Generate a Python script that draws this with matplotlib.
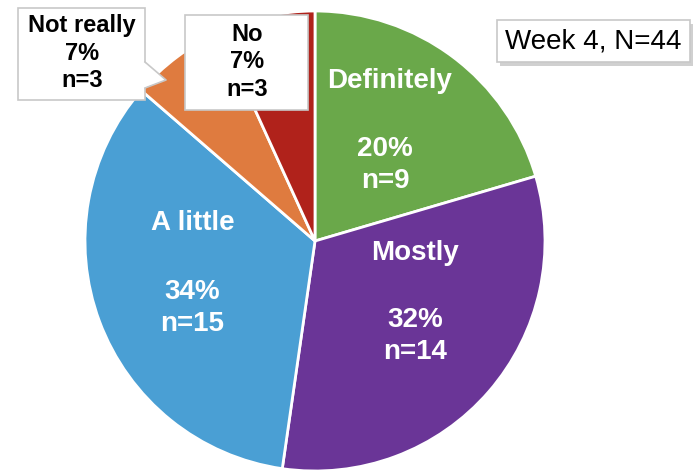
import matplotlib.pyplot as plt
from matplotlib.patches import Rectangle, Polygon

plt.rcParams['font.family'] = ['Liberation Sans', 'DejaVu Sans']

labels = ['Definitely', 'Mostly', 'A little', 'Not really', 'No']
counts = [9, 14, 15, 3, 3]
pcts = ['20%', '32%', '34%', '7%', '7%']
colors = ['#6aa84a', '#6a3597', '#4a9fd4', '#df7b3f', '#b0221b']

W, H = 695, 471
fig = plt.figure(figsize=(W / 100, H / 100), dpi=100)
ax = fig.add_axes([0, 0, 1, 1])


def fy(y):
    # image row -> data y
    return H - y


ax.pie(counts, colors=colors, startangle=90, counterclock=False,
       center=(315, fy(241)), radius=230,
       wedgeprops=dict(edgecolor='white', linewidth=2))
ax.set_xlim(0, W)
ax.set_ylim(0, H)
ax.set_aspect('equal')
ax.axis('off')

# labels inside the big slices
inside = {0: ((390, 81), (385, 165)), 1: ((415, 253), (415, 336)), 2: ((193, 223), (192, 308))}
for i, ((lx, ly), (px, py)) in inside.items():
    ax.text(lx, fy(ly), labels[i], color='white', fontsize=20, fontweight='bold',
            ha='center', va='center')
    ax.text(px, fy(py), f'{pcts[i]}\nn={counts[i]}', color='white', fontsize=20,
            fontweight='bold', ha='center', va='center', linespacing=1.3)


def box(x0, y0, x1, y1, shadow=False):
    if shadow:
        ax.add_patch(Rectangle((x0 + 3, fy(y1) - 4), x1 - x0, y1 - y0,
                               facecolor='#d0d0d0', edgecolor='none', zorder=4))
    ax.add_patch(Rectangle((x0, fy(y1)), x1 - x0, y1 - y0, facecolor='white',
                           edgecolor='#c8c8c8', linewidth=1.2, zorder=5))


# callout for Not really
box(18, 8, 145, 100)
ax.add_patch(Polygon([(144, fy(62)), (166, fy(80)), (144, fy(88))], closed=True,
                     facecolor='white', edgecolor='none', zorder=6))
ax.plot([145, 166, 145], [fy(62), fy(80), fy(88)], color='#c8c8c8', lw=1.2, zorder=6)
ax.text(82, fy(53), f'{labels[3]}\n{pcts[3]}\nn={counts[3]}', fontsize=17,
        fontweight='bold', ha='center', va='center', linespacing=1.25, zorder=7)

# callout for No
box(185, 15, 308, 110)
ax.text(247, fy(62), f'{labels[4]}\n{pcts[4]}\nn={counts[4]}', fontsize=17,
        fontweight='bold', ha='center', va='center', linespacing=1.25, zorder=7)

# week box
box(497, 20, 690, 62, shadow=True)
ax.text(593, fy(41), 'Week 4, N=44', fontsize=20, ha='center', va='center', zorder=7)

fig.savefig('out.png', dpi=100)
